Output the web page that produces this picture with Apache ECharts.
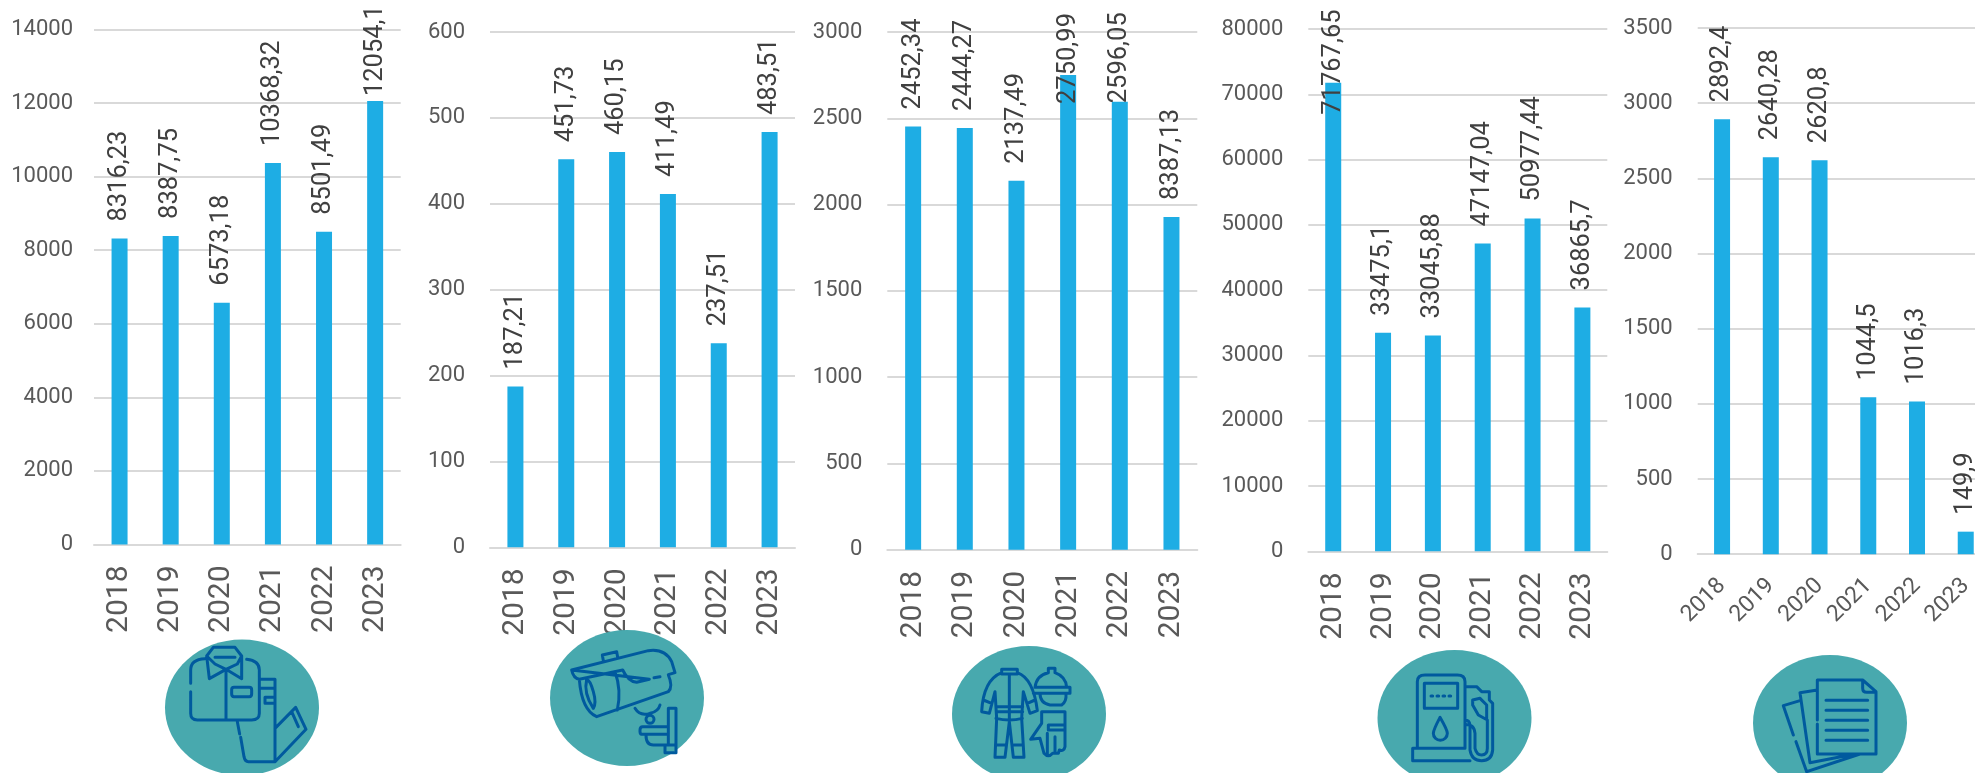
<!DOCTYPE html>
<html>
<head>
<meta charset="utf-8">
<title>chart</title>
<script src="https://cdn.jsdelivr.net/npm/echarts@6/dist/echarts.min.js"></script>
<style>
	html, body {margin: 0; padding: 0; background: #fff; overflow: hidden;}
	#main {width: 1975px; height: 773px;}
</style>
</head>
<body>
<div id="main"></div>
<script>
var years = ['2018', '2019', '2020', '2021', '2022', '2023'];

// bar heights
var clothes = [8316.23, 8387.75, 6573.18, 10368.32, 8501.49, 12054.1];
var cameras = [187.21, 451.73, 460.15, 411.49, 237.51, 483.51];
var workwear = [2452.34, 2444.27, 2137.49, 2750.99, 2596.05, 1928];
var fuel = [71767.65, 33475.1, 33045.88, 47147.04, 50977.44, 37350];
var papers = [2892.4, 2640.28, 2620.8, 1044.5, 1016.3, 149.9];

// the printed labels, they do not always agree with the bar
var clothesLabels = ['8316,23', '8387,75', '6573,18', '10368,32', '8501,49', '12054,1'];
var camerasLabels = ['187,21', '451,73', '460,15', '411,49', '237,51', '483,51'];
var workwearLabels = ['2452,34', '2444,27', '2137,49', '2750,99', '2596,05', '8387,13'];
var fuelLabels = ['71767,65', '33475,1', '33045,88', '47147,04', '50977,44', '36865,7'];
var papersLabels = ['2892,4', '2640,28', '2620,8', '1044,5', '1016,3', '149,9'];

var axisMax = [14000, 600, 3000, 80000, 3500];
var axisStep = [2000, 100, 500, 10000, 500];

var values = [clothes, cameras, workwear, fuel, papers];
var labels = [clothesLabels, camerasLabels, workwearLabels, fuelLabels, papersLabels];

// layout of the five panels
var panels = [
	{left: 94, top: 29.5, width: 306.7, height: 515},
	{left: 490, top: 32, width: 305, height: 515.3},
	{left: 887.3, top: 32, width: 310, height: 517.8},
	{left: 1308.3, top: 29, width: 299, height: 522.3},
	{left: 1697.7, top: 28, width: 292.4, height: 526.2}
];
var tickMargins = [21, 25, 25, 25, 25];

// labels that were dragged away from the usual spot above the bar
var labelGap = 17;
var movedLabels = {'0-5': 5, '2-3': -29, '2-4': -1.5, '3-0': -32};

var badges = [
	{cx: 242, cy: 707.5, ox: 150, oy: 620},
	{cx: 627, cy: 698, ox: 540, oy: 620},
	{cx: 1029, cy: 714, ox: 940, oy: 650},
	{cx: 1454.5, cy: 718, ox: 1370, oy: 640},
	{cx: 1830, cy: 723, ox: 1740, oy: 640}
];

// line icons, drawn in 3x units
var icons = [
	// shirt and trousers
	'M122 190V150Q122 118 165 116M122 215V280Q122 300 142 300H305Q328 300 328 280V150Q328 122 290 118' +
	'M170 108L190 82H255L275 108L262 132L228 148L195 132ZM195 112H255M170 108L178 176L228 148L275 176L275 108M228 148V300' +
	'M252 202H298Q305 202 305 210V222Q305 230 298 230H252Q245 230 245 222V210Q245 202 252 202Z' +
	'M330 178H375V425H295Q285 425 282 410L272 352M262 305L269 342M330 205H375M345 232H375V250H345Z' +
	'M375 325L437 262L468 328L375 425M425 275L445 320',
	// camera
	'M95 150L325 92Q375 85 395 125L405 158L385 164M360 170L342 173M328 178L290 187Q265 185 248 150L118 178Q100 175 95 150Z' +
	'M190 122L187 105L230 95L233 112M385 165Q400 200 385 215L170 290Q125 270 118 178' +
	'M140 178Q130 220 160 265Q170 250 160 215Q150 180 140 178ZM225 155Q245 210 232 270' +
	'M285 265Q300 290 330 280Q355 275 360 255M342 298A12 12 0 1 1 318 298A12 12 0 1 1 342 298Z' +
	'M385 320H308Q300 320 300 330V335Q300 343 308 343H385M318 345Q318 375 340 375H405' +
	'M385 265H408V398H375V375M385 265V375',
	// protective suit, helmet and glove
	'M185 58H232V72H185ZM185 68Q130 90 125 185L148 190L165 125L170 205L165 322H195L208 215L220 322H252L245 205L250 125L270 190L292 182Q280 85 232 68' +
	'M208 72V205M170 170H248M170 185H248M168 205Q208 215 247 205M168 285H195M222 285H250M130 150L155 160M285 150L262 160' +
	'M285 112Q290 75 325 68V55H345V68Q378 80 380 112M285 112H390V130H280M300 130Q300 160 330 165H365Q380 155 378 130' +
	'M305 185H375V290Q372 305 358 300L355 310H338Q325 325 312 310L300 265L272 268L305 220ZM322 250V312M345 260V308M325 225H375V240H325Z',
	// fuel pump
	'M142 325V125Q142 105 165 105H262Q285 105 285 125V325M300 362H128V325H285M163 130H263V205H163Z' +
	'M183 168H188M201 168H206M219 168H224M237 168H242M210 232Q190 270 190 280A20 20 0 0 0 232 280Q232 270 210 232Z' +
	'M285 140H320L335 155H358V180L368 190V330Q365 362 335 362Q305 362 300 330V255Q298 240 285 240' +
	'M285 255Q312 250 315 280V325Q320 345 335 345Q352 345 352 325V240L325 225L308 195V180L330 175L350 195V240',
	// sheets of paper
	'M232 240V120H368L408 155V342H232V252M368 120V145Q368 157 380 157H408' +
	'M258 181H383M258 211H383M258 241H383M258 271H383M258 301H383' +
	'M232 150L180 158L210 368L345 342M180 182L130 197L160 285M168 305L200 395L360 342'
];

var barColor = '#1EADE4';
var gridColor = '#D9D9D9';
var tickColor = '#595959';
var labelColor = '#404040';
var badgeColor = '#48A9AE';
var iconColor = '#005A9E';
var fontName = 'Roboto';

function buildSeries(re){
	var data = [];
	for (var i=0; i<values[re].length; i++){
		var gap = movedLabels[re+'-'+i];
		data.push({
			value: values[re][i],
			label: {
				formatter: labels[re][i],
				distance: gap === undefined ? labelGap : gap
			}
		});
	}
	return {
		type: 'bar',
		xAxisIndex: re,
		yAxisIndex: re,
		barWidth: 16,
		itemStyle: {color: barColor},
		label: {
			show: true,
			position: 'top',
			rotate: 90,
			align: 'left',
			verticalAlign: 'middle',
			padding: [6, 0, 0, 0],
			color: labelColor,
			fontFamily: fontName,
			fontSize: 25.5
		},
		data: data
	};
}

var grids = [], xAxes = [], yAxes = [], series = [], graphics = [];

for (var re=0; re<5; re++){
	grids.push({
		left: panels[re].left,
		top: panels[re].top,
		width: panels[re].width,
		height: panels[re].height,
		outerBoundsMode: 'none'
	});
	xAxes.push({
		type: 'category',
		gridIndex: re,
		data: years,
		axisTick: {show: false},
		axisLine: {lineStyle: {color: gridColor, width: 2}},
		axisLabel: {
			interval: 0,
			rotate: re == 4 ? 45 : 90,
			margin: re == 4 ? 28 : 21,
			padding: re == 4 ? [11, 0, 0, 0] : [8, 0, 0, 0],
			color: tickColor,
			fontFamily: fontName,
			fontSize: re == 4 ? 23 : 30
		}
	});
	yAxes.push({
		type: 'value',
		gridIndex: re,
		min: 0,
		max: axisMax[re],
		interval: axisStep[re],
		axisLine: {show: false},
		axisTick: {show: false},
		splitLine: {lineStyle: {color: gridColor, width: 2}},
		axisLabel: {
			margin: tickMargins[re],
			color: tickColor,
			fontFamily: fontName,
			fontSize: 22,
			formatter: function(v){ return String(v); }
		}
	});
	series.push(buildSeries(re));

	// graphic has no plain path type, so each icon is registered as a shape
	echarts.graphic.registerShape('icon'+re, echarts.graphic.extendPath(icons[re], {}));

	graphics.push({
		type: 'ellipse',
		z: 10,
		shape: {cx: badges[re].cx, cy: badges[re].cy, rx: 77, ry: 68},
		style: {fill: badgeColor}
	});
	graphics.push({
		type: 'icon'+re,
		z: 11,
		x: badges[re].ox,
		y: badges[re].oy,
		scaleX: 1/3,
		scaleY: 1/3,
		style: {fill: 'none', stroke: iconColor, lineWidth: 9, lineJoin: 'round', lineCap: 'round'}
	});
}

var chart = echarts.init(document.getElementById('main'), null, {renderer: 'canvas'});
chart.setOption({
	animation: false,
	backgroundColor: '#fff',
	grid: grids,
	xAxis: xAxes,
	yAxis: yAxes,
	series: series,
	graphic: graphics
});
</script>
</body>
</html>
